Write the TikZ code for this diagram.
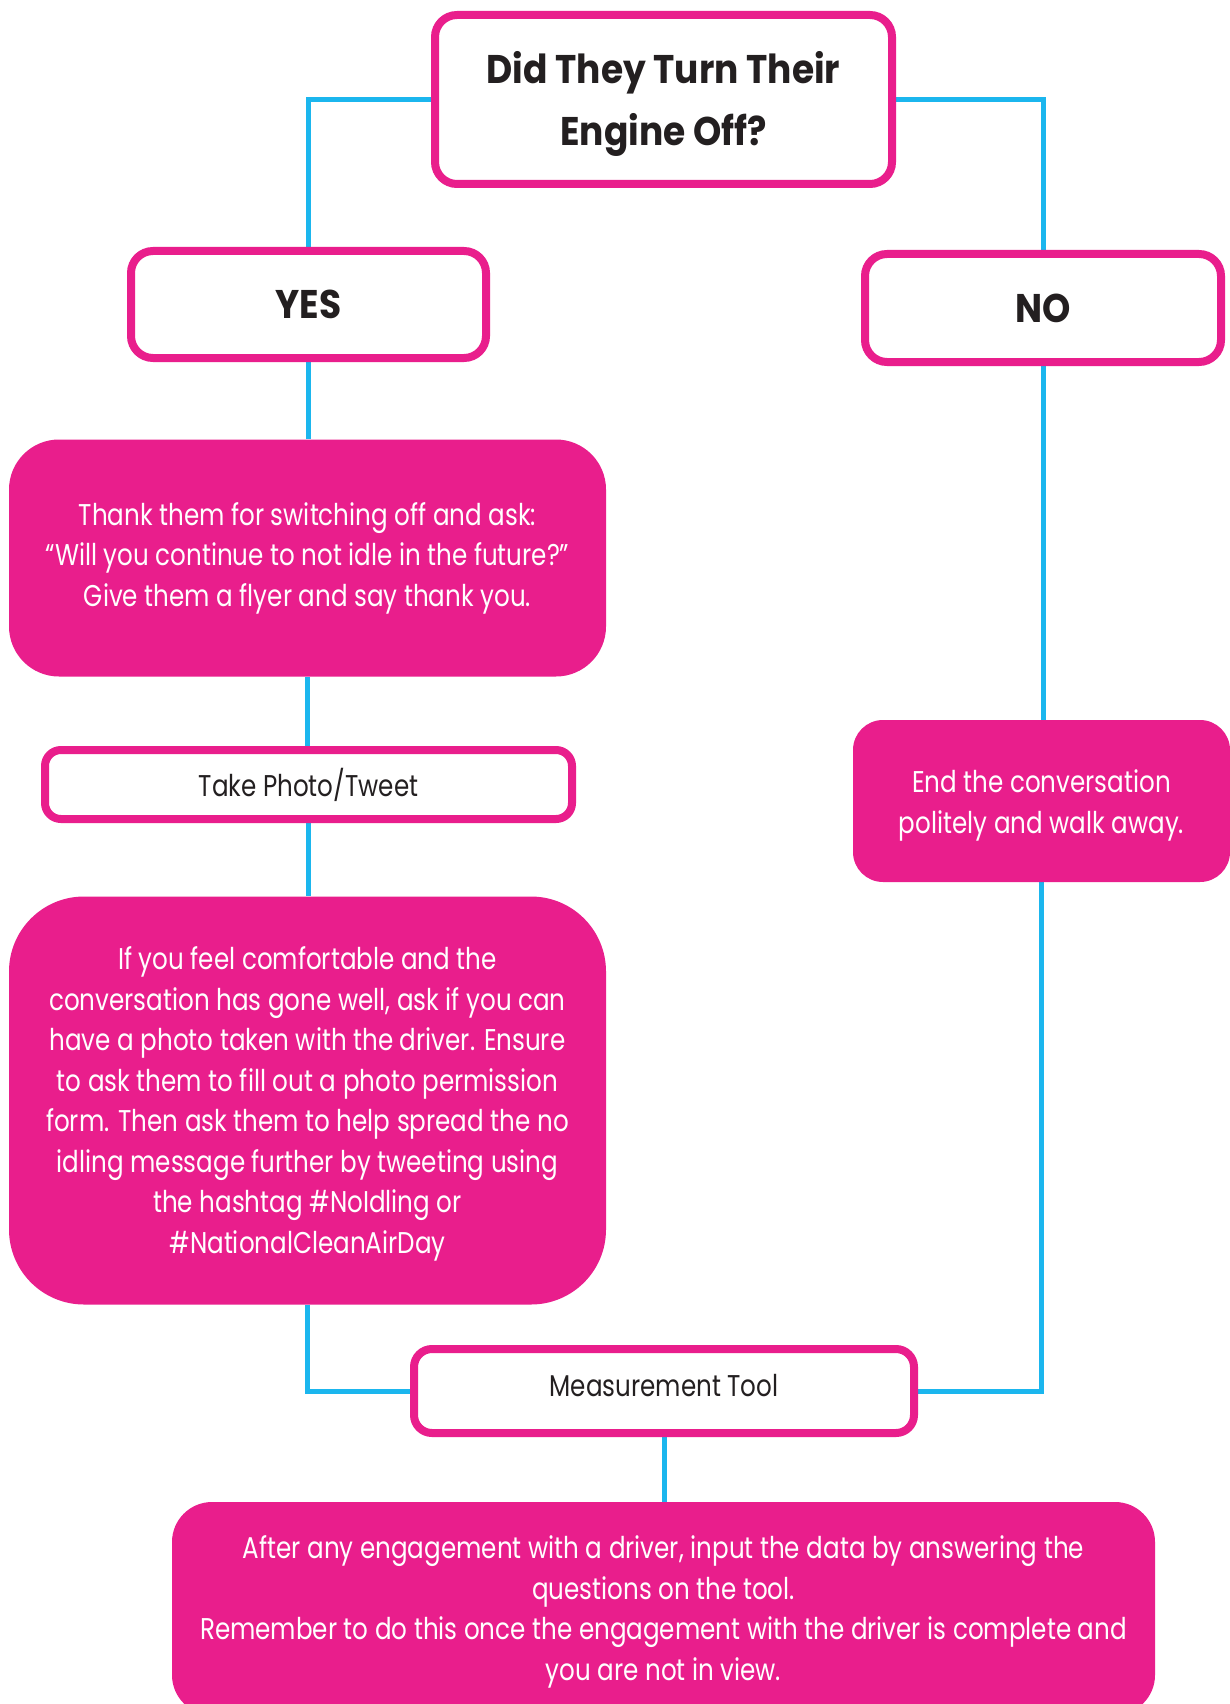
\documentclass[tikz,border=0pt]{standalone}
\usepackage{fontspec}
\setmainfont{Poppins}[FakeStretch=0.82]
\newfontfamily\headfont{Poppins}[FakeStretch=0.9]
\usetikzlibrary{backgrounds}
\definecolor{pinkc}{RGB}{233,30,140}
\definecolor{bluec}{RGB}{27,182,238}
\definecolor{textc}{RGB}{35,31,32}
\newcommand{\shiftdown}[2]{\raisebox{#1}[\height][\depth]{#2}}
\tikzset{
  whitebox/.style={draw=pinkc, line width=8pt, fill=white, rounded corners=22pt, text=textc, align=center, inner sep=0pt},
  pinkbox/.style={fill=pinkc, text=white, align=center, inner sep=0pt},
  conn/.style={draw=bluec, line width=5pt},
  bodytext/.style={font=\fontsize{30}{40.5}\selectfont},
  headtext/.style={font=\headfont\fontsize{40}{62}\selectfont\bfseries},
}
\begin{document}
\begin{tikzpicture}[x=1pt,y=-1pt]
\useasboundingbox (0,0) rectangle (1230,1704);

\node[whitebox, minimum width=457pt, minimum height=169pt, headtext] (q) at (663.5,99.5) {\shiftdown{-3pt}{\begin{tabular}{@{}c@{}}Did They Turn Their\\Engine Off?\end{tabular}}};
\node[whitebox, minimum width=355pt, minimum height=107pt, headtext] (yes) at (308.5,304.5) {YES};
\node[whitebox, minimum width=356pt, minimum height=108pt, headtext] (no) at (1043,308) {NO};

\node[pinkbox, rounded corners=50pt, minimum width=597pt, minimum height=237pt, bodytext] (a1) at (307.5,558)
  {Thank them for switching off and ask:\\``Will you continue to not idle in the future?''\\Give them a flyer and say thank you.};

\node[whitebox, rounded corners=16pt, minimum width=527pt, minimum height=69pt, bodytext] (photo) at (308.5,784.5) {Take Photo/Tweet};

\node[pinkbox, rounded corners=75pt, minimum width=597pt, minimum height=408pt, bodytext] (a2) at (307.5,1100.5)
  {\shiftdown{-3pt}{\begin{tabular}{@{}c@{}}If you feel comfortable and the\\conversation has gone well, ask if you can\\have a photo taken with the driver. Ensure\\to ask them to fill out a photo permission\\form. Then ask them to help spread the no\\idling message further by tweeting using\\the hashtag \#NoIdling or\\\#NationalCleanAirDay\end{tabular}}};

\node[pinkbox, rounded corners=30pt, minimum width=377pt, minimum height=162pt, bodytext] (endc) at (1041.5,801)
  {\shiftdown{-4pt}{\begin{tabular}{@{}c@{}}End the conversation\\politely and walk away.\end{tabular}}};

\node[whitebox, rounded corners=18pt, minimum width=500pt, minimum height=84pt, bodytext] (meas) at (664,1391) {\shiftdown{5pt}{Measurement Tool}};

\node[pinkbox, rounded corners=40pt, minimum width=983pt, minimum height=213pt, bodytext] (fin) at (663.5,1608.5)
  {\shiftdown{-3pt}{\begin{tabular}{@{}c@{}}After any engagement with a driver, input the data by answering the\\questions on the tool.\\Remember to do this once the engagement with the driver is complete and\\you are not in view.\end{tabular}}};

\begin{pgfonlayer}{background}
\fill[white] (0,0) rectangle (1230,1704);
\draw[conn] (q.west) -| (yes.north);
\draw[conn] (q.east) -| (no.north);
\draw[conn] (yes.south) -- (yes.south |- a1.north);
\draw[conn] (a1.south) -- (a1.south |- photo.north);
\draw[conn] (photo.south) -- (photo.south |- a2.north);
\draw[conn] (a2.south) |- (meas.west);
\draw[conn] (no.south) -- (no.south |- endc.north);
\draw[conn] (endc.south) |- (meas.east);
\draw[conn] (meas.south) -- (meas.south |- fin.north);
\end{pgfonlayer}
\end{tikzpicture}
\end{document}
